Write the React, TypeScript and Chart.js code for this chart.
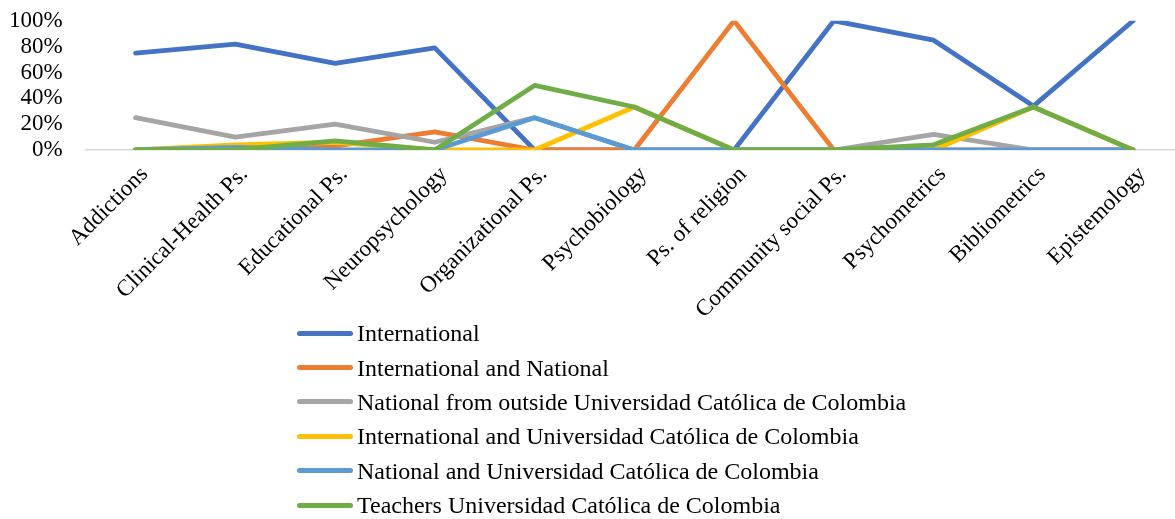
import React, { useEffect, useRef } from "react";
import { Chart, registerables } from "chart.js";

Chart.register(...registerables);

const categories = [
  "Addictions",
  "Clinical-Health Ps.",
  "Educational Ps.",
  "Neuropsychology",
  "Organizational Ps.",
  "Psychobiology",
  "Ps. of religion",
  "Community social Ps.",
  "Psychometrics",
  "Bibliometrics",
  "Epistemology",
];

const seriesNames = [
  "International",
  "International and National",
  "National from outside Universidad Católica de Colombia",
  "International and Universidad Católica de Colombia",
  "National and Universidad Católica de Colombia",
  "Teachers Universidad Católica de Colombia",
];

const international = [75, 82, 67, 79, 0, 0, 0, 100, 85, 34, 100];
const internationalAndNational = [0, 3, 3, 14, 0, 0, 100, 0, 0, 0, 0];
const nationalOutside = [25, 10, 20, 6, 25, 0, 0, 0, 12, 0, 0];
const internationalAndUCC = [0, 4, 6, 0, 0, 33.3, 0, 0, 0, 33.3, 0];
const nationalAndUCC = [0, 2, 0, 0, 25, 0, 0, 0, 0, 0, 0];
const teachersUCC = [0, 0, 7, 0, 50, 33.3, 0, 0, 4, 33.3, 0];

const yTicks = [0, 20, 40, 60, 80, 100];

const colors = ["#4472C4", "#ED7D31", "#A5A5A5", "#FFC000", "#5B9BD5", "#70AD47"];
const seriesValues = [
  international,
  internationalAndNational,
  nationalOutside,
  internationalAndUCC,
  nationalAndUCC,
  teachersUCC,
];

const FONT = "'Liberation Serif', 'Times New Roman', serif";

export default function App() {
  const canvasRef = useRef<HTMLCanvasElement | null>(null);

  useEffect(() => {
    if (!canvasRef.current) return;
    const chart = new Chart(canvasRef.current, {
      type: "line",
      data: {
        labels: categories,
        datasets: seriesNames.map((name, i) => ({
          label: name,
          data: seriesValues[i],
          borderColor: colors[i],
          backgroundColor: colors[i],
          borderWidth: 4.8,
          pointRadius: 0,
          tension: 0,
          fill: false,
          borderJoinStyle: "round" as const,
          borderCapStyle: "round" as const,
          order: seriesNames.length - 1 - i,
        })),
      },
      options: {
        responsive: true,
        maintainAspectRatio: false,
        animation: false,
        layout: { padding: { left: 0, top: 0, right: 0, bottom: 0 } },
        plugins: {
          legend: { display: false },
          tooltip: { enabled: false },
        },
        scales: {
          x: {
            offset: true,
            afterFit: (scale: any) => {
              scale.height = 179;
            },
            grid: { display: false, drawTicks: false },
            border: { display: true, color: "#d9d9d9", width: 1.5 },
            ticks: {
              autoSkip: false,
              maxRotation: 45,
              minRotation: 45,
              color: "#000",
              font: { family: FONT, size: 23 },
              padding: 11,
              labelOffset: 9,
            },
          },
          y: {
            min: 0,
            max: 100,
            afterBuildTicks: (axis: any) => {
              axis.ticks = yTicks.map((v) => ({ value: v }));
            },
            grid: { display: false, drawTicks: false },
            border: { display: false },
            ticks: {
              autoSkip: false,
              color: "#000",
              font: { family: FONT, size: 23 },
              padding: 23,
              callback: (v: any) => `${v}%`,
            },
          },
        },
      },
    });
    return () => chart.destroy();
  }, []);

  return (
    <div
      style={{
        position: "absolute",
        left: 0,
        top: 0,
        width: 1175,
        height: 519,
        overflow: "hidden",
        background: "#fff",
      }}
    >
      <div style={{ position: "absolute", left: -14, top: -16, width: 1197, height: 345 }}>
        <canvas ref={canvasRef} />
      </div>
      <div style={{ position: "absolute", left: 297, top: 316 }}>
        {seriesNames.map((name, i) => (
          <div
            key={name}
            style={{ display: "flex", alignItems: "center", height: 34.4 }}
          >
            <span
              style={{
                display: "inline-block",
                width: 56,
                height: 5,
                borderRadius: 3,
                background: colors[i],
                marginRight: 4,
              }}
            />
            <span
              style={{
                fontFamily: FONT,
                fontSize: 24,
                lineHeight: "34px",
                color: "#000",
                whiteSpace: "nowrap",
              }}
            >
              {name}
            </span>
          </div>
        ))}
      </div>
    </div>
  );
}
